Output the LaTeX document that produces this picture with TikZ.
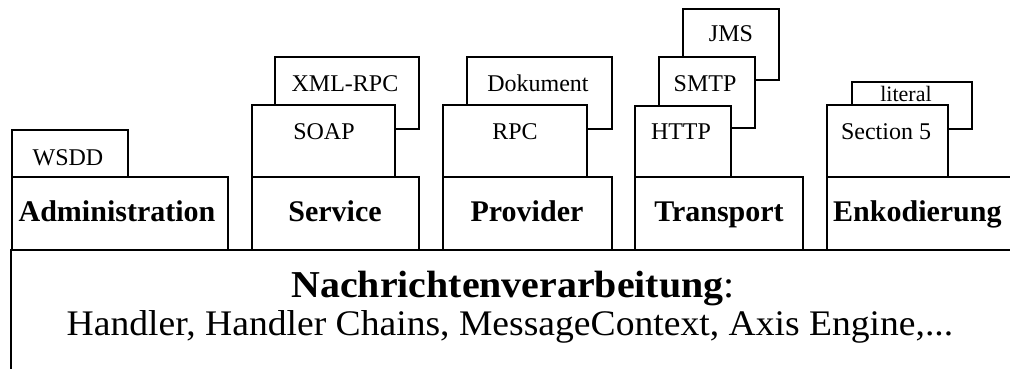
\documentclass[tikz,border=0pt]{standalone}
\usepackage{fontspec}
\setmainfont{Liberation Serif}
\begin{document}
\begin{tikzpicture}[x=1pt,y=-1pt,
  box/.style={draw=black,fill=white,line width=1.5pt,line join=miter},
  small/.style={anchor=base,inner sep=0pt,font=\fontsize{24}{28}\selectfont},
  layer/.style={anchor=base,inner sep=0pt,font=\fontsize{30}{34}\selectfont\bfseries},
  big/.style={anchor=base,inner sep=0pt,font=\fontsize{36}{40}\selectfont}]
\useasboundingbox (0,0) rectangle (1010,368);
\clip (0,0) rectangle (1010,368);

% base layer: message processing
\draw[box] (11,250) rectangle (1030,400);
\node[big] (core) at (513,297) {\scalebox{1.05}[1]{\fontsize{38}{40}\selectfont\textbf{Nachrichtenverarbeitung}:}};
\node[big] (coredesc) at (510,335) {\scalebox{1.045}[1]{Handler, Handler Chains, MessageContext, Axis Engine,...}};

% administration column
\draw[box] (12,130) rectangle (128,177);
\node[small] (wsdd) at (68,165) {WSDD};
\draw[box] (12,177) rectangle (228,250);
\node[layer] (admin) at (117,221) {Administration};

% service column
\draw[box] (275,57) rectangle (419,129);
\node[small] (xmlrpc) at (345,91) {XML-RPC};
\draw[box] (252,105) rectangle (395,177);
\node[small] (soap) at (324,139) {SOAP};
\draw[box] (252,177) rectangle (419,250);
\node[layer] (service) at (335,221) {Service};

% provider column
\draw[box] (467,57) rectangle (612,129);
\node[small] (dokument) at (538,91) {Dokument};
\draw[box] (443,105) rectangle (587,177);
\node[small] (rpc) at (515,139) {RPC};
\draw[box] (443,177) rectangle (612,250);
\node[layer] (provider) at (527,221) {Provider};

% transport column
\draw[box] (683,9) rectangle (779,80);
\node[small] (jms) at (731,41) {JMS};
\draw[box] (659,57) rectangle (755,128);
\node[small] (smtp) at (705,91) {SMTP};
\draw[box] (635,106) rectangle (731,177);
\node[small] (http) at (681,139) {HTTP};
\draw[box] (635,177) rectangle (803,250);
\node[layer] (transport) at (719,221) {Transport};

% encoding column
\draw[box] (852,82) rectangle (972,129);
\node[small,font=\fontsize{22}{26}\selectfont] (literal) at (906,101) {literal};
\draw[box] (827,105) rectangle (948,177);
\node[small] (section) at (886,139) {Section 5};
\draw[box] (827,177) rectangle (1030,250);
\node[layer,anchor=base west] (encoding) at (833,221) {Enkodierung};
\end{tikzpicture}
\end{document}
